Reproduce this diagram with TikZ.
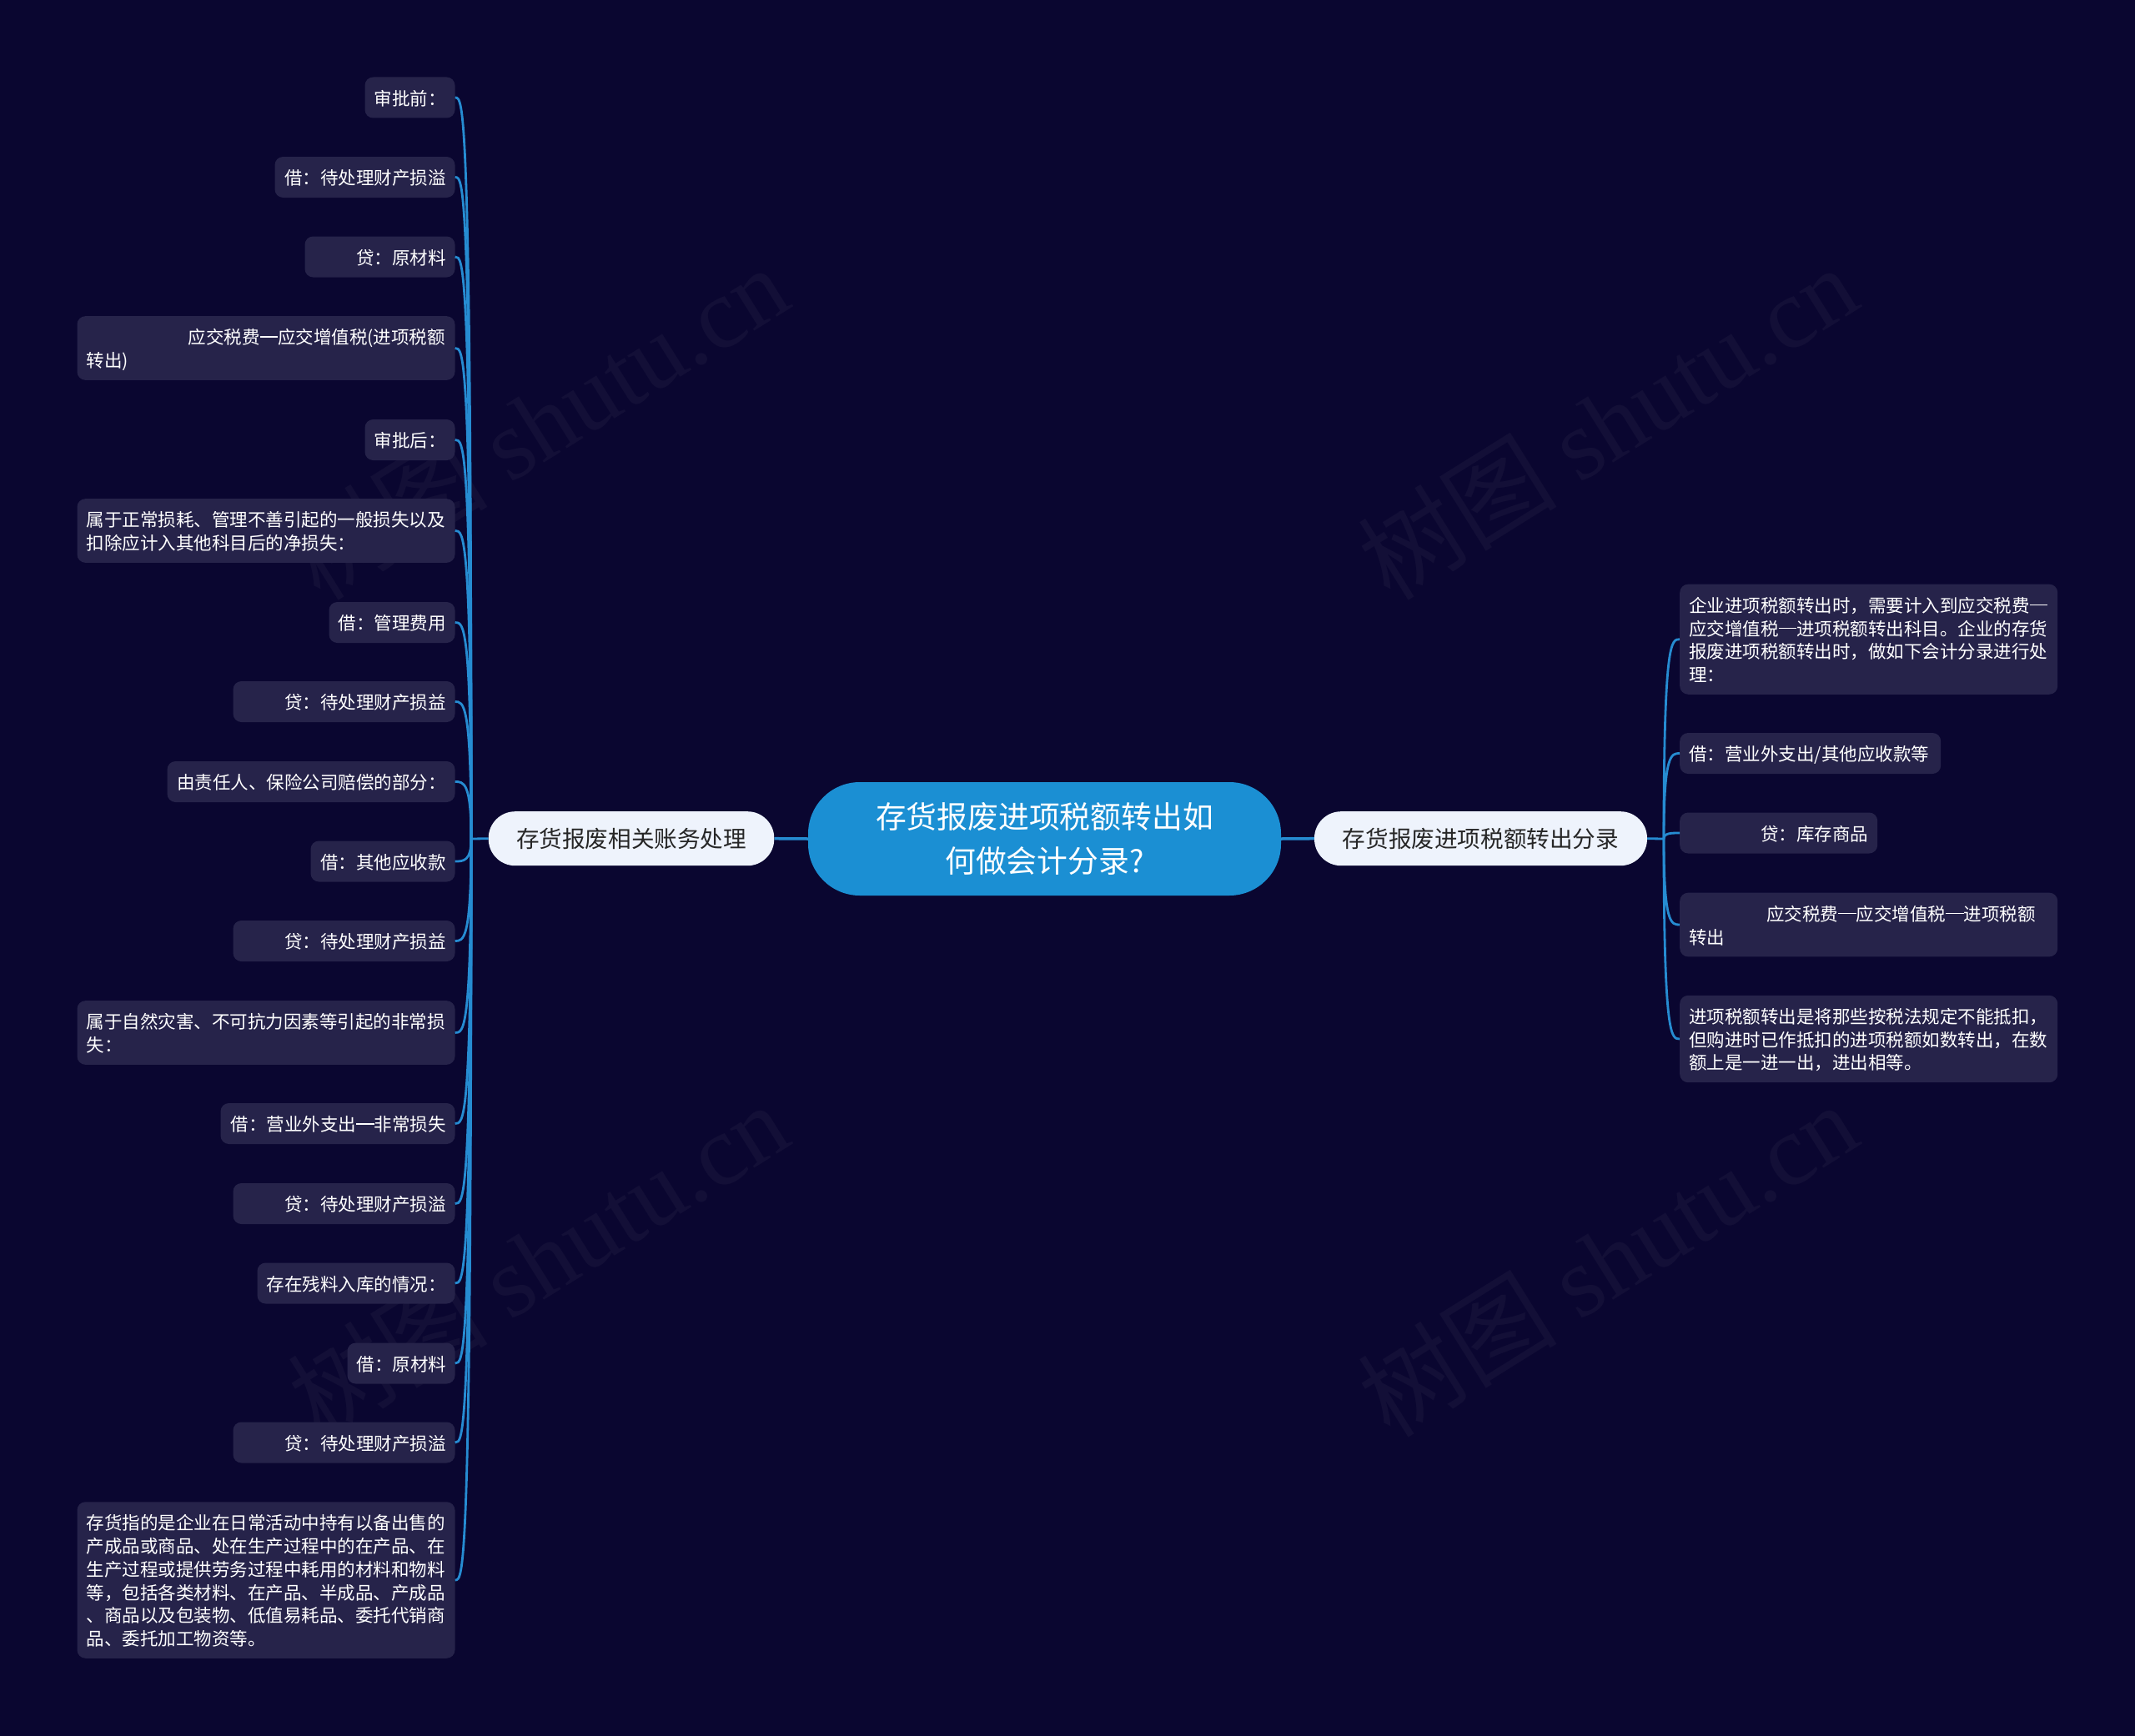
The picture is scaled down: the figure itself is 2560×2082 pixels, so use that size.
\documentclass[tikz,border=0pt]{standalone}
\usepackage{fontspec}
\setmainfont{Noto Sans CJK SC}
\newfontfamily\wmlatin{Liberation Serif}
\usetikzlibrary{calc}
\definecolor{bgc}{RGB}{10,6,48}
\definecolor{leafc}{RGB}{38,35,74}
\definecolor{linec}{RGB}{38,140,210}
\definecolor{mainc}{RGB}{27,143,211}
\definecolor{lonec}{RGB}{238,243,252}
\definecolor{lonetext}{RGB}{38,38,38}
\definecolor{wmc}{RGB}{19,15,55}
\newcommand{\lf}{\fontsize{21.5}{27.7}\selectfont}
\newcommand{\stt}{\rule[-4.7pt]{0pt}{27.7pt}}
\newcommand{\SL}[1]{\stt#1\stt}
\newcommand{\emd}{\rule[0.37em]{1em}{0.07em}}
\tikzset{
  leaf/.style={fill=leafc, rounded corners=10pt, text=white, font=\lf, inner xsep=11pt, inner ysep=10.65pt},
  leafL/.style={leaf, anchor=east, align=right},
  leafR/.style={leaf, anchor=west, align=left},
  conn/.style={draw=linec, line width=2.8pt},
  mconn/.style={draw=linec, line width=3.5pt},
  lone/.style={fill=lonec, text=lonetext, rounded corners=32pt, minimum height=65pt, inner sep=0pt, font=\fontsize{27.6}{33}\selectfont},
  wm/.style={text=wmc, rotate=32, font=\fontsize{120}{140}\selectfont}
}
\begin{document}
\begin{tikzpicture}[x=1pt,y=-1pt]
\path[use as bounding box, fill=bgc] (0,0) rectangle (2560,2082);
% watermarks
\node[wm] (w1) at (645,506) {树图 {\wmlatin shutu.cn}};
\node[wm] (w2) at (1927,506) {树图 {\wmlatin shutu.cn}};
\node[wm] (w3) at (645,1510) {树图 {\wmlatin shutu.cn}};
\node[wm] (w4) at (1927,1510) {树图 {\wmlatin shutu.cn}};

% main
\node[fill=mainc, text=white, rounded corners=62pt, minimum width=567pt, minimum height=136pt, inner sep=0pt, align=center, font=\fontsize{36.8}{53}\selectfont] (main) at (1252.5,1006) {存货报废进项税额转出如\\何做会计分录?};

% level one
\node[lone, minimum width=342.6pt] (L) at (757,1005.7) {存货报废相关账务处理};
\node[lone, minimum width=399pt] (R) at (1775.5,1005.7) {存货报废进项税额转出分录};
\coordinate (JL) at (565,1006);
\coordinate (JR) at (1995,1006);

% left leaves
\node[leafL, text width=86pt] (a1) at (545.7,117) {\SL{审批前：}};
\node[leafL, text width=194pt] (a2) at (545.7,212.5) {\SL{借：待处理财产损溢}};
\node[leafL, text width=158pt] (a3) at (545.7,308) {\SL{贷：原材料}};
\node[leafL, text width=431pt, align=left] (a4) at (545.7,417.5) {\stt\hspace*{122pt}应交税费\emd 应交增值税(进项税额\\转出)\stt};
\node[leafL, text width=86pt] (a5) at (545.7,527.5) {\SL{审批后：}};
\node[leafL, text width=431pt, align=left] (a6) at (545.7,636.5) {\stt 属于正常损耗、管理不善引起的一般损失以及\\扣除应计入其他科目后的净损失：\stt};
\node[leafL, text width=129pt] (a7) at (545.7,746.5) {\SL{借：管理费用}};
\node[leafL, text width=244pt] (a8) at (545.7,841.5) {\SL{贷：待处理财产损益}};
\node[leafL, text width=323pt] (a9) at (545.7,937.5) {\SL{由责任人、保险公司赔偿的部分：}};
\node[leafL, text width=151pt] (a10) at (545.7,1033) {\SL{借：其他应收款}};
\node[leafL, text width=244pt] (a11) at (545.7,1128.5) {\SL{贷：待处理财产损益}};
\node[leafL, text width=431pt, align=left] (a12) at (545.7,1238.5) {\stt 属于自然灾害、不可抗力因素等引起的非常损\\失：\stt};
\node[leafL, text width=259pt] (a13) at (545.7,1347.5) {\SL{借：营业外支出\emd 非常损失}};
\node[leafL, text width=244pt] (a14) at (545.7,1443.5) {\SL{贷：待处理财产损溢}};
\node[leafL, text width=215pt] (a15) at (545.7,1539) {\SL{存在残料入库的情况：}};
\node[leafL, text width=107pt] (a16) at (545.7,1635) {\SL{借：原材料}};
\node[leafL, text width=244pt] (a17) at (545.7,1730) {\SL{贷：待处理财产损溢}};
\node[leafL, text width=431pt, align=left] (a18) at (545.7,1895) {\stt 存货指的是企业在日常活动中持有以备出售的\\产成品或商品、处在生产过程中的在产品、在\\生产过程或提供劳务过程中耗用的材料和物料\\等，包括各类材料、在产品、半成品、产成品\\、商品以及包装物、低值易耗品、委托代销商\\品、委托加工物资等。\stt};

% right leaves
\node[leafR, text width=431pt] (b1) at (2014,766.7) {\stt 企业进项税额转出时，需要计入到应交税费\emd\\应交增值税\emd 进项税额转出科目。企业的存货\\报废进项税额转出时，做如下会计分录进行处\\理：\stt};
\node[leafR, text width=291pt] (b2) at (2014,903.5) {\SL{借：营业外支出/其他应收款等}};
\node[leafR, text width=215pt, align=right] (b3) at (2014,999) {\SL{贷：库存商品}};
\node[leafR, text width=431pt] (b4) at (2014,1109) {\stt\hspace*{93pt}应交税费\emd 应交增值税\emd 进项税额\\转出\stt};
\node[leafR, text width=431pt] (b5) at (2014,1246) {\stt 进项税额转出是将那些按税法规定不能抵扣，\\但购进时已作抵扣的进项税额如数转出，在数\\额上是一进一出，进出相等。\stt};

% connectors
\draw[mconn] (main.west) -- (L.east);
\draw[mconn] (main.east) -- (R.west);
\draw[conn] (L.west) -- (JL);
\draw[conn] (R.east) -- (JR);
\foreach \i in {1,...,18}{
  \draw[conn] (a\i.east) .. controls ($(a\i.east)+(10,0)$) and (JL |- a\i.east) .. (JL);
}
\foreach \i in {1,...,5}{
  \draw[conn] (b\i.west) .. controls ($(b\i.west)+(-10,0)$) and (JR |- b\i.west) .. (JR);
}
\end{tikzpicture}
\end{document}
